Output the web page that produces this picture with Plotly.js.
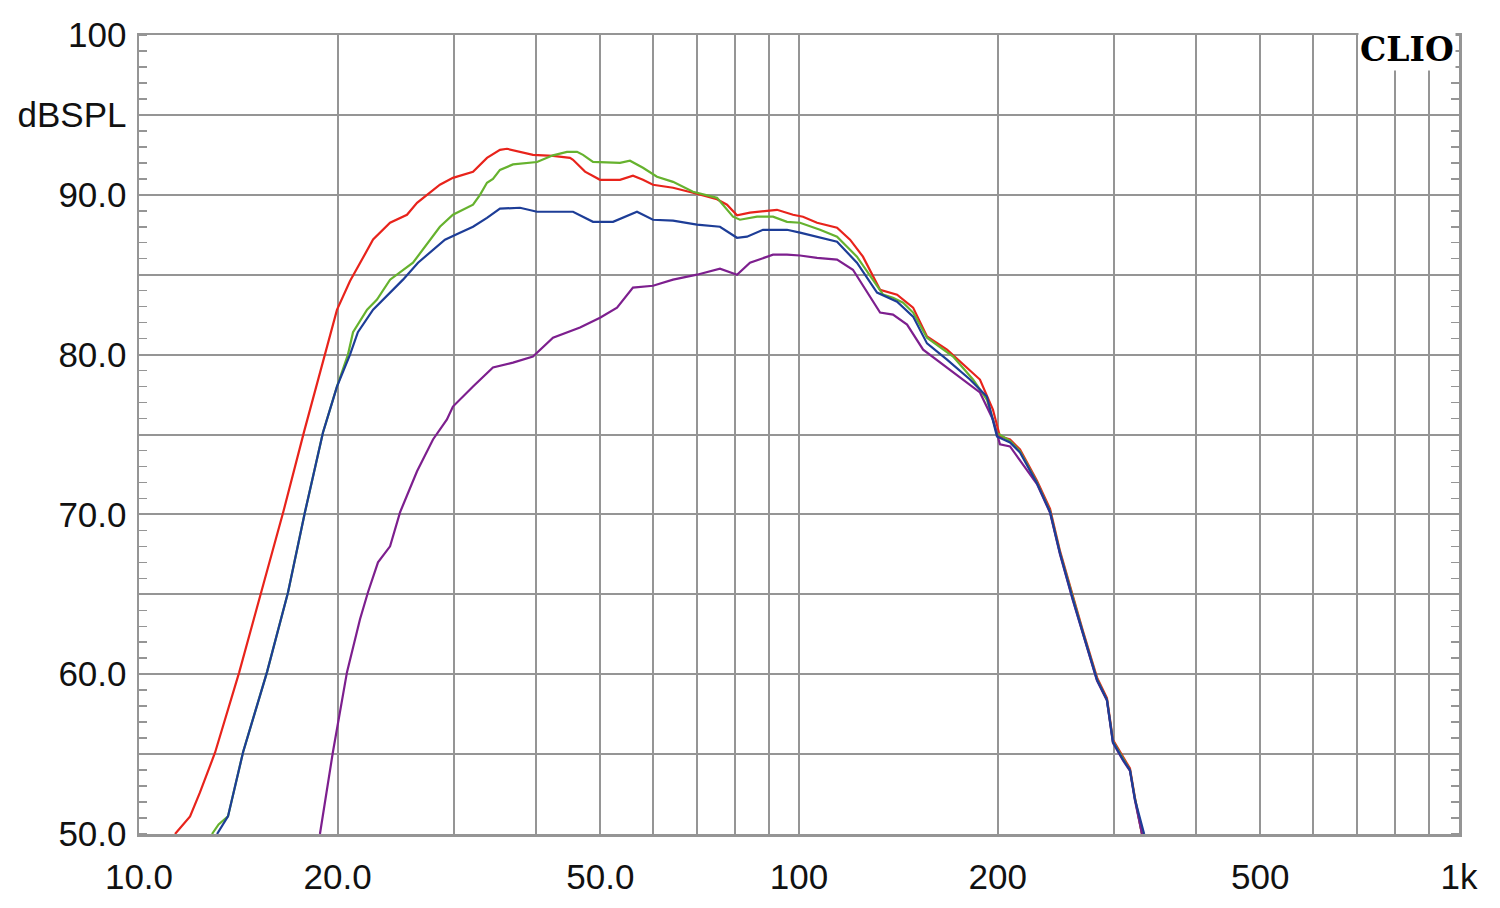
<!DOCTYPE html>
<html>
<head>
<meta charset="utf-8">
<script src="https://cdn.plot.ly/plotly-3.0.1.min.js"></script>
<style>
  html, body { margin: 0; padding: 0; background: #ffffff; }
  #chart { width: 1500px; height: 908px; }
</style>
</head>
<body>
<div id="chart"></div>
<script>
// ---- data (frequency in Hz, level in dB SPL) ----
const redF = [11.34, 11.95, 12.37, 13.04, 14.18, 15.31, 16.53, 17.78, 19.13, 19.95, 20.88, 21.39, 22.63, 24.01, 25.47, 26.38, 27.31, 28.57, 29.9, 32.07, 33.67, 35.23, 36.1, 37.8, 39.53, 42.39, 44.98, 45.46, 47.4, 49.95, 53.55, 56.03, 58.02, 60.08, 64.44, 69.08, 75.12, 77.79, 80.55, 84.28, 92.61, 97.93, 101.4, 106.5, 114.2, 119.5, 125.0, 132.7, 137.4, 140.8, 148.9, 156.3, 167.6, 175.3, 188.0, 196.7, 201.6, 208.8, 216.2, 229.4, 240.1, 248.6, 260.1, 269.3, 282.8, 292.8, 299.0, 309.7, 317.3, 322.9, 330.9];
const redDb = [50.0, 51.1, 52.6, 55.1, 60.1, 65.1, 70.1, 75.15, 80.0, 82.8, 84.6, 85.4, 87.2, 88.25, 88.75, 89.5, 90.0, 90.63, 91.06, 91.44, 92.31, 92.81, 92.88, 92.7, 92.5, 92.44, 92.31, 92.19, 91.45, 90.94, 90.94, 91.19, 90.94, 90.63, 90.44, 90.13, 89.72, 89.38, 88.72, 88.88, 89.06, 88.75, 88.63, 88.25, 87.94, 87.19, 86.13, 84.06, 83.88, 83.75, 82.94, 81.13, 80.31, 79.56, 78.44, 76.56, 74.88, 74.69, 74.06, 72.1, 70.35, 67.7, 64.8, 62.7, 59.8, 58.5, 55.9, 54.8, 54.1, 52.25, 50.0];

const greenF = [12.90, 13.2, 13.64, 14.38, 15.63, 16.82, 17.84, 19.0, 19.95, 20.73, 21.1, 22.16, 22.94, 24.01, 26.01, 27.6, 28.57, 29.9, 32.07, 32.86, 33.67, 34.38, 35.23, 36.87, 39.53, 40.09, 42.39, 44.51, 46.1, 47.07, 48.74, 53.55, 55.45, 58.02, 60.93, 64.44, 69.08, 75.12, 79.43, 81.39, 86.38, 91.33, 95.9, 100.35, 107.6, 114.2, 122.4, 131.3, 134.1, 138.8, 143.8, 148.9, 151.0, 156.3, 171.2, 183.5, 192.6, 199.5, 208.8, 216.2, 229.4, 240.1, 248.6, 260.1, 269.3, 282.8, 292.8, 299.0, 309.7, 317.3, 322.9, 330.9];
const greenDb = [50.0, 50.6, 51.1, 55.13, 60.13, 65.13, 70.13, 75.13, 78.0, 80.0, 81.4, 82.81, 83.44, 84.69, 85.75, 87.19, 88.0, 88.75, 89.38, 90.0, 90.75, 91.0, 91.56, 91.9, 92.0, 92.05, 92.47, 92.69, 92.69, 92.5, 92.06, 92.0, 92.13, 91.69, 91.13, 90.81, 90.19, 89.81, 88.63, 88.44, 88.63, 88.63, 88.31, 88.25, 87.81, 87.38, 86.13, 84.25, 83.75, 83.56, 83.25, 82.63, 82.19, 81.06, 79.88, 78.44, 77.19, 75.1, 74.6, 73.95, 72.0, 70.2, 67.6, 64.7, 62.6, 59.7, 58.4, 55.8, 54.7, 54.0, 52.2, 50.0];

const blueF = [13.13, 13.64, 14.38, 15.63, 16.82, 17.84, 19.0, 19.95, 20.88, 21.46, 22.63, 23.43, 25.12, 26.47, 29.08, 30.64, 32.07, 33.67, 35.23, 37.78, 40.09, 45.46, 48.74, 52.27, 56.82, 60.08, 64.44, 70.05, 75.9, 80.55, 83.4, 88.2, 95.9, 100.35, 107.6, 114.2, 122.4, 131.3, 140.8, 148.9, 156.3, 167.6, 181.6, 192.6, 199.5, 208.8, 216.2, 229.4, 240.1, 248.6, 260.1, 269.3, 282.8, 292.8, 299.0, 309.7, 317.3, 322.9, 333.4];
const blueDb = [50.0, 51.1, 55.13, 60.13, 65.13, 70.13, 75.13, 78.0, 80.0, 81.4, 82.81, 83.44, 84.69, 85.75, 87.19, 87.63, 88.0, 88.56, 89.13, 89.19, 88.94, 88.94, 88.31, 88.31, 88.94, 88.44, 88.38, 88.13, 88.0, 87.31, 87.38, 87.81, 87.81, 87.63, 87.31, 87.06, 85.75, 83.88, 83.31, 82.38, 80.7, 79.69, 78.44, 77.38, 74.88, 74.5, 73.88, 71.95, 70.15, 67.55, 64.65, 62.6, 59.65, 58.4, 55.75, 54.65, 54.0, 52.15, 50.0];

const purpleF = [18.80, 19.67, 20.66, 21.62, 22.23, 23.02, 24.01, 24.86, 26.38, 27.89, 29.28, 29.9, 32.07, 34.38, 36.87, 39.53, 42.39, 46.58, 49.95, 53.0, 56.03, 60.08, 64.44, 70.05, 75.9, 80.55, 84.28, 91.33, 95.9, 100.35, 106.5, 114.2, 120.7, 132.7, 138.8, 145.8, 154.2, 163.6, 179.7, 188.0, 196.7, 201.6, 208.8, 213.9, 229.4, 240.1, 248.6, 260.1, 269.3, 282.8, 292.8, 299.0, 309.7, 317.3, 322.9, 330.9];
const purpleDb = [50.0, 55.13, 60.13, 63.44, 65.13, 67.0, 68.0, 70.13, 72.7, 74.69, 75.94, 76.75, 78.0, 79.19, 79.5, 79.88, 81.06, 81.69, 82.31, 82.94, 84.19, 84.31, 84.69, 85.0, 85.38, 85.0, 85.75, 86.25, 86.25, 86.2, 86.05, 85.94, 85.31, 82.63, 82.5, 81.88, 80.31, 79.5, 78.25, 77.63, 75.94, 74.38, 74.25, 73.63, 71.9, 70.1, 67.5, 64.6, 62.55, 59.6, 58.35, 55.7, 54.6, 53.95, 52.1, 50.0];

const xTickVals = [10, 20, 30, 40, 50, 60, 70, 80, 90, 100, 200, 300, 400, 500, 600, 700, 800, 900, 1000];
const xTickText = ['10.0', '20.0', '', '', '50.0', '', '', '', '', '100', '200', '', '', '500', '', '', '', '', '1k'];
const yTickVals = [50, 55, 60, 65, 70, 75, 80, 85, 90, 95, 100];
const yTickText = ['50.0', '', '60.0', '', '70.0', '', '80.0', '', '90.0', 'dBSPL', '100'];

const series = [
  {x: redF, y: redDb, color: '#e8231b'},
  {x: greenF, y: greenDb, color: '#66b22e'},
  {x: purpleF, y: purpleDb, color: '#7d1f8e'},
  {x: blueF, y: blueDb, color: '#1d3d97'}
];

const traces = series.map(s => ({
  type: 'scatter', mode: 'lines', x: s.x, y: s.y,
  line: {color: s.color, width: 2.2},
  hoverinfo: 'x+y', showlegend: false
}));

const gridColor = '#959595';
const tickFont = {family: 'Liberation Sans, Arial, sans-serif', size: 35, color: '#111111'};

const layout = {
  width: 1500, height: 908,
  margin: {l: 139, r: 41, t: 35, b: 74},
  paper_bgcolor: '#ffffff', plot_bgcolor: '#ffffff',
  showlegend: false,
  xaxis: {
    type: 'log', range: [1, 3],
    tickmode: 'array', tickvals: xTickVals, ticktext: xTickText,
    showgrid: true, gridcolor: gridColor, gridwidth: 2,
    ticks: '', ticklabelstandoff: 10,
    showline: true, linecolor: gridColor, linewidth: 2.5, mirror: true,
    zeroline: false, tickfont: tickFont
  },
  yaxis: {
    range: [50, 100],
    tickmode: 'array', tickvals: yTickVals, ticktext: yTickText,
    showgrid: true, gridcolor: gridColor, gridwidth: 2,
    ticks: '', ticklabelstandoff: 3,
    showline: true, linecolor: gridColor, linewidth: 2.5, mirror: 'ticks',
    zeroline: false, tickfont: tickFont,
    minor: {dtick: 1, tick0: 50, ticks: 'inside', ticklen: 8, tickwidth: 1.5, tickcolor: gridColor, showgrid: false}
  },
  annotations: [{
    xref: 'paper', yref: 'paper', x: 0.9975, y: 0.982,
    xanchor: 'right', yanchor: 'middle',
    text: '<b>CLIO</b>', showarrow: false,
    font: {family: 'DejaVu Serif, serif', size: 33, color: '#000000'},
    bgcolor: '#ffffff', borderpad: 1
  }]
};

Plotly.newPlot('chart', traces, layout, {staticPlot: true, displayModeBar: false});
</script>
</body>
</html>
